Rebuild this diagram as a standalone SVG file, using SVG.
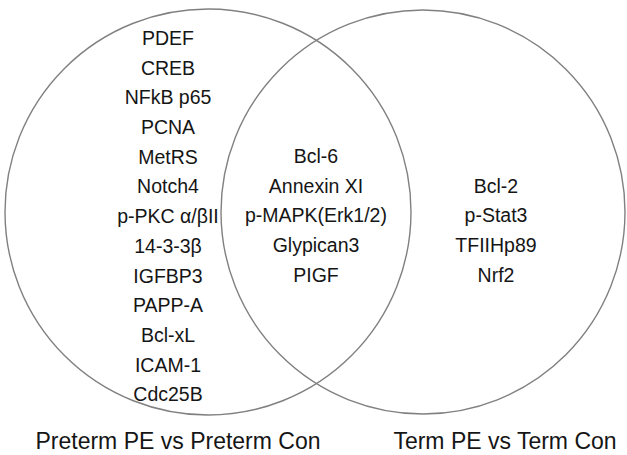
<svg xmlns="http://www.w3.org/2000/svg" width="627" height="455" viewBox="0 0 627 455">
<style>
.c{fill:none;stroke:#808080;stroke-width:1.4}
.t{font-family:"Liberation Sans",Arial,sans-serif;font-size:19.5px;fill:#151515;text-anchor:middle}
.h{font-family:"Liberation Sans",Arial,sans-serif;font-size:23px;fill:#151515;text-anchor:middle}
</style>
<rect width="627" height="455" fill="#fff"/>
<g id="set-preterm"><circle class="c" cx="208" cy="212" r="203"/></g>
<g id="set-term"><circle class="c" cx="423" cy="212" r="202"/></g>
<g id="connectors"></g>
<g id="left-only" class="t">
<text x="168" y="45">PDEF</text>
<text x="168" y="75">CREB</text>
<text x="168" y="104">NFkB p65</text>
<text x="168" y="134">PCNA</text>
<text x="168" y="164">MetRS</text>
<text x="168" y="193">Notch4</text>
<text x="168" y="223">p-PKC α/βII</text>
<text x="168" y="253">14-3-3β</text>
<text x="168" y="283">IGFBP3</text>
<text x="168" y="312">PAPP-A</text>
<text x="168" y="342">Bcl-xL</text>
<text x="168" y="372">ICAM-1</text>
<text x="168" y="401">Cdc25B</text>
</g>
<g id="overlap" class="t">
<text x="316" y="163">Bcl-6</text>
<text x="316" y="193">Annexin XI</text>
<text x="316" y="222">p-MAPK(Erk1/2)</text>
<text x="316" y="252">Glypican3</text>
<text x="316" y="282">PIGF</text>
</g>
<g id="right-only" class="t">
<text x="496" y="193">Bcl-2</text>
<text x="496" y="222">p-Stat3</text>
<text x="496" y="252">TFIIHp89</text>
<text x="496" y="282">Nrf2</text>
</g>
<g id="labels" class="h">
<text x="178" y="449">Preterm PE vs Preterm Con</text>
<text x="505" y="449">Term PE vs Term Con</text>
</g>
</svg>
